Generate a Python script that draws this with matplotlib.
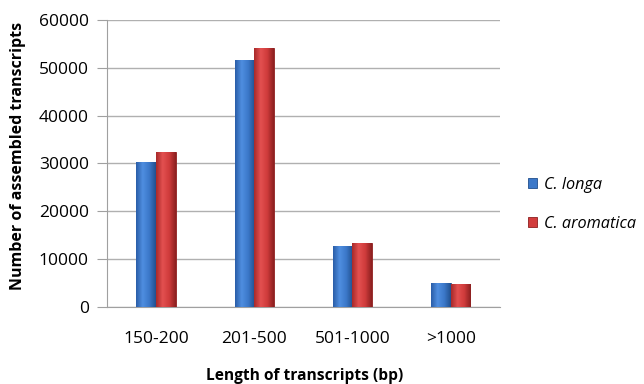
import matplotlib
matplotlib.use("Agg")
import matplotlib.pyplot as plt
import numpy as np
from matplotlib.colors import LinearSegmentedColormap

categories = ["150-200", "201-500", "501-1000", ">1000"]
c_longa = [30400, 51700, 12800, 4950]
c_aromatica = [32500, 54100, 13300, 4800]
yticks = [0, 10000, 20000, 30000, 40000, 50000, 60000]

plt.rcParams['font.family'] = ['Open Sans', 'DejaVu Sans']

fig = plt.figure(figsize=(6.44, 3.84), dpi=100)
ax = fig.add_axes([0.166, 0.2005, 0.61, 0.7475])

x = np.arange(len(categories))
w = 0.2
b1 = ax.bar(x - w/2, c_longa, w, color="#3b78c9", edgecolor="#1f4e8c", linewidth=0.6, label="C. longa", zorder=3)
b2 = ax.bar(x + w/2, c_aromatica, w, color="#d23c3c", edgecolor="#8c1f1f", linewidth=0.6, label="C. aromatica", zorder=3)

# horizontal shading on each bar
cmap_b = LinearSegmentedColormap.from_list("b", ["#2a5ea8", "#4f8ee0", "#3b78c9", "#21508f"])
cmap_r = LinearSegmentedColormap.from_list("r", ["#a82a2a", "#e35050", "#cf3b3b", "#8c2020"])
grad = np.linspace(0, 1, 64).reshape(1, -1)
for bars, cm in ((b1, cmap_b), (b2, cmap_r)):
    for p in bars:
        x0, y0 = p.get_x(), p.get_y()
        ww, hh = p.get_width(), p.get_height()
        im = ax.imshow(grad, cmap=cm, aspect="auto", extent=(x0, x0 + ww, y0, y0 + hh), zorder=3.5)
        im.set_clip_path(p)

ax.set_xlim(-0.5, len(categories) - 0.5)
ax.set_ylim(0, 60000)
ax.set_yticks(yticks)
ax.set_yticklabels([str(v) for v in yticks], fontsize=12.5)
ax.set_xticks(x)
ax.set_xticklabels(categories, fontsize=12.5)
ax.tick_params(axis='x', length=0, pad=17.5)
ax.tick_params(axis='y', length=7, color="#a0a0a0", pad=6)
ax.yaxis.grid(True, color="#b0b0b0", linewidth=1.0, zorder=0)
ax.set_axisbelow(True)
for s in ["top", "right"]:
    ax.spines[s].set_visible(False)
ax.spines["left"].set_color("#a0a0a0")
ax.spines["bottom"].set_color("#a0a0a0")

ax.set_ylabel("Number of assembled transcripts", fontsize=11.5, fontweight="bold")
ax.yaxis.set_label_coords(-0.206, 0.525)
ax.set_xlabel("Length of transcripts (bp)", fontsize=11.2, fontweight="bold")
ax.xaxis.set_label_coords(0.504, -0.213)

leg = fig.legend(handles=[b1, b2], labels=["C. longa", "C. aromatica"],
                 loc="center left", bbox_to_anchor=(528 / 644, 0.468), frameon=False,
                 borderpad=0, borderaxespad=0,
                 prop={'style': 'italic', 'size': 11.7}, handlelength=0.55, handleheight=0.55,
                 handletextpad=0.45, labelspacing=1.4)

fig.savefig("out.png", dpi=100)
